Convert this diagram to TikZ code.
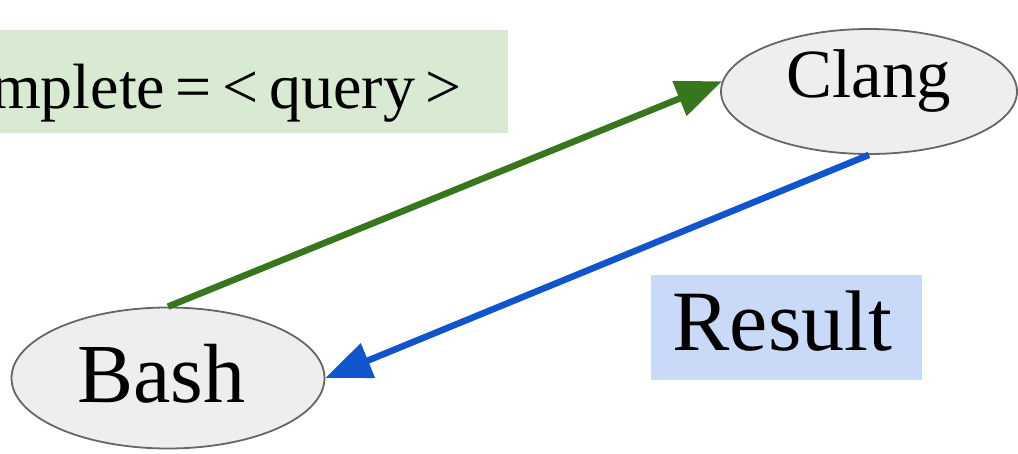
\documentclass[tikz,border=0pt]{standalone}
\usepackage{fontspec}
\setmainfont{Liberation Serif}
\usetikzlibrary{arrows.meta,shapes.geometric}
\definecolor{ellfill}{HTML}{EEEEEE}
\definecolor{ellline}{HTML}{666666}
\definecolor{gline}{HTML}{38761D}
\definecolor{bline}{HTML}{1155CC}
\definecolor{gbox}{HTML}{D9EAD3}
\definecolor{bbox}{HTML}{C9DAF8}
\tikzset{
  oval/.style={ellipse, draw=ellline, fill=ellfill, line width=1.8pt, inner sep=0pt},
  conn/.style={line width=6.5pt, -{Triangle[length=46pt,width=36pt]}},
  tag/.style={inner ysep=0pt}
}
\begin{document}
\begin{tikzpicture}[x=1pt,y=-1pt]
\useasboundingbox (0,0) rectangle (1018,453);
\clip (0,0) rectangle (1018,453);
\node[tag, fill=gbox, anchor=east, inner xsep=46pt, minimum height=103pt,
      text height=60pt, text depth=7pt, font=\fontsize{64}{76}\selectfont]
      (query) at (508,81.5) {--autocomplete\,=\,<\,query\,>};
\node[tag, fill=bbox, minimum width=271pt, minimum height=105pt,
      text height=58pt, text depth=13pt, font=\fontsize{86}{100}\selectfont]
      (result) at (786.5,327.5) {\hspace*{-8pt}Result};
\node[oval, minimum width=296pt, minimum height=125pt,
      text height=46pt, text depth=35pt, font=\fontsize{69}{80}\selectfont]
      (clang) at (869,91.5) {Clang};
\node[oval, minimum width=313pt, minimum height=141pt,
      text height=57pt, text depth=9pt, font=\fontsize{84}{100}\selectfont]
      (bash) at (168,378) {Bash\hspace*{14pt}};
\draw[conn, draw=gline, fill=gline] (bash.north) -- (clang.176);
\draw[conn, draw=bline, fill=bline] (clang.south) -- (bash.east);
\end{tikzpicture}
\end{document}
